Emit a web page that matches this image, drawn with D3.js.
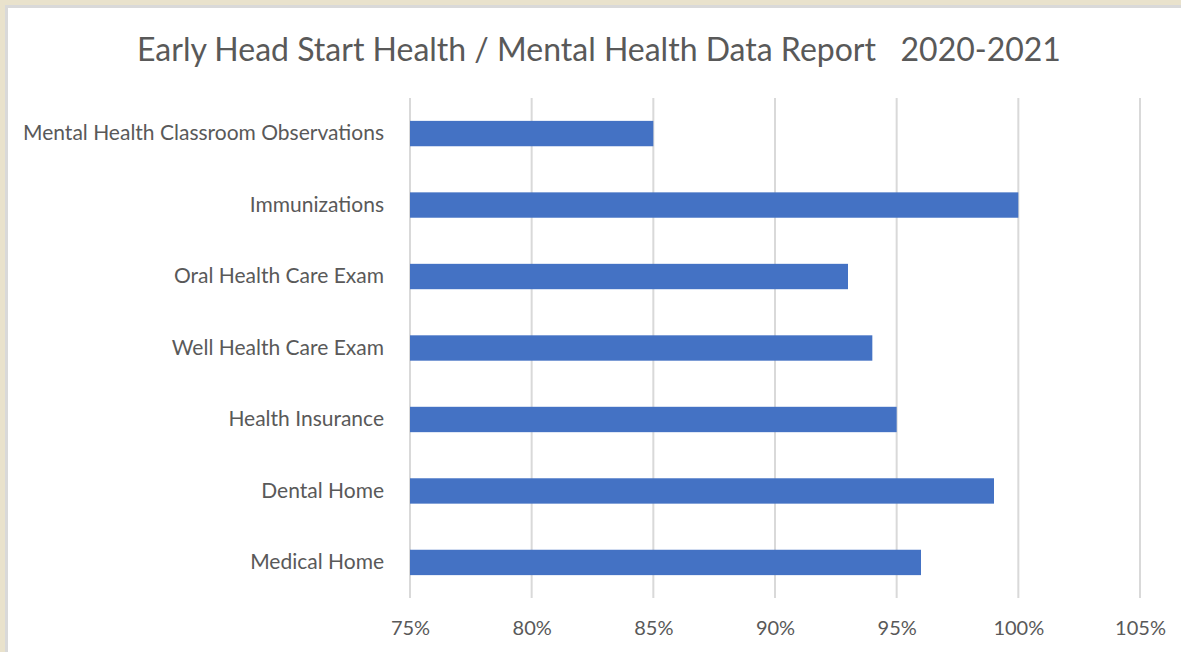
<!DOCTYPE html>
<head>
<meta charset="utf-8">
<style>
body { margin: 0; background: #e9e2cc; }
svg { display: block; }
text { font-family: Lato, "Open Sans", sans-serif; fill: #595959; }
</style>
</head>
<body>
<script src="https://d3js.org/d3.v7.min.js"></script>
<script>
(function() {
	var categories = ["Mental Health Classroom Observations", "Immunizations", "Oral Health Care Exam",
		"Well Health Care Exam", "Health Insurance", "Dental Home", "Medical Home"];
	var values = [0.85, 1.00, 0.93, 0.94, 0.95, 0.99, 0.96];
	var ticks = [0.75, 0.80, 0.85, 0.90, 0.95, 1.00, 1.05];
	var title = "Early Head Start Health / Mental Health Data Report\u00a0\u00a0 2020-2021";

	var W = 1181, H = 652,
		margin = {top: 98, right: 41, bottom: 54, left: 410},
		w = W - margin.left - margin.right,
		h = H - margin.top - margin.bottom;

	var svg = d3.select("body").append("svg")
		.attr("width", W)
		.attr("height", H);

	// beige frame, gray edge, white panel
	svg.append("rect").attr("x", 0).attr("y", 0).attr("width", W).attr("height", H).attr("fill", "#e9e2cc");
	svg.append("rect").attr("x", 5).attr("y", 5).attr("width", W - 5).attr("height", H - 5).attr("fill", "#d9d9d9");
	svg.append("rect").attr("x", 8).attr("y", 8).attr("width", W - 8).attr("height", H - 8).attr("fill", "#fff");

	svg.append("text")
		.attr("x", 599)
		.attr("y", 61)
		.attr("text-anchor", "middle")
		.style("font-size", "32px")
		.text(title);

	var x = d3.scaleLinear().domain([0.75, 1.05]).range([0, w]);
	var y = d3.scaleBand().domain(categories).range([0, h]).paddingInner(0.645).paddingOuter(0.32);

	var vis = svg.append("g").attr("transform", "translate(" + margin.left + "," + margin.top + ")");

	vis.selectAll("line.grid").data(ticks).enter().append("line")
		.attr("class", "grid")
		.attr("x1", function(d) { return x(d); })
		.attr("x2", function(d) { return x(d); })
		.attr("y1", 0)
		.attr("y2", h)
		.attr("stroke", "#d9d9d9")
		.attr("stroke-width", 2);

	vis.selectAll("rect.bar").data(values).enter().append("rect")
		.attr("class", "bar")
		.attr("x", x(0.75))
		.attr("y", function(d, i) { return y(categories[i]); })
		.attr("width", function(d) { return x(d) - x(0.75); })
		.attr("height", y.bandwidth())
		.attr("fill", "#4472c4");

	var xAxis = vis.append("g")
		.attr("transform", "translate(0," + h + ")")
		.call(d3.axisBottom(x).tickValues(ticks).tickSize(0).tickPadding(23)
			.tickFormat(function(d) { return Math.round(d * 100) + "%"; }));
	xAxis.select(".domain").remove();
	xAxis.selectAll("text").style("font-size", "20px").attr("fill", "#595959");

	var yAxis = vis.append("g")
		.call(d3.axisLeft(y).tickSize(0).tickPadding(26));
	yAxis.select(".domain").remove();
	yAxis.selectAll("text").style("font-size", "21px").attr("fill", "#595959");
})();
</script>
</body>
